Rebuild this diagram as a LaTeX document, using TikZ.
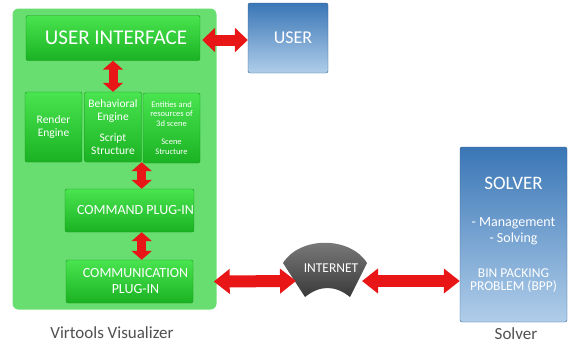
\documentclass[tikz,border=0pt]{standalone}
\usepackage{fontspec}
\setmainfont{Carlito}
\usetikzlibrary{arrows.meta,positioning,calc}
\definecolor{panelgreen}{RGB}{104,222,112}
\definecolor{boxtop}{RGB}{74,228,80}
\definecolor{boxbot}{RGB}{26,178,34}
\definecolor{bluetop}{RGB}{58,118,182}
\definecolor{bluebot}{RGB}{176,206,234}
\definecolor{arrowred}{RGB}{232,22,22}
\definecolor{nettop}{RGB}{128,128,128}
\definecolor{netbot}{RGB}{58,58,58}
\definecolor{captiongray}{RGB}{80,80,80}
\newcommand\fsz[1]{\fontsize{#1}{1.2\dimexpr#1pt\relax}\selectfont}
\tikzset{
panel/.style={fill=panelgreen, rounded corners=6pt, inner sep=0pt},
module/.style={top color=boxtop, bottom color=boxbot, draw=boxbot!85!black,
  rounded corners=2pt, text=white, align=center, inner sep=0pt},
bluebox/.style={top color=bluetop, bottom color=bluebot, draw=bluetop!80!black,
  rounded corners=2pt, text=white, align=center, inner sep=0pt},
link/.style n args={3}{draw=arrowred, line width=#1,
  >={Triangle[length=#3,width=#2]}, <->},
caption/.style={text=captiongray, font=\fontsize{17}{20}\selectfont},
}

\begin{document}
\begin{tikzpicture}[x=1pt,y=-1pt]
\useasboundingbox (0,0) rectangle (568,349);
% visualizer side
\node[panel, minimum width=204pt, minimum height=301pt] (viz) at (114.5,159) {};
\node[module, minimum width=174pt, minimum height=45pt,
  font=\fontsize{21}{24}\selectfont] (ui) at (113,38) {\hspace{6pt}USER INTERFACE};
\node[module, minimum width=57pt, minimum height=70pt,
  font=\fontsize{11.5}{13.5}\selectfont] (render) at (53.5,127) {Render\\Engine};
\node[module, minimum width=57pt, minimum height=70pt,
  font=\fontsize{11.5}{13}\selectfont] (behav) at (113,127)
  {Behavioral\\Engine\\[8pt]Script\\Structure};
\node[module, minimum width=57pt, minimum height=70pt,
  font=\fontsize{8.5}{9.5}\selectfont] (scene) at (171.5,128)
  {Entities and\\resources of\\3d scene\\[9pt]Scene\\Structure};
\node[module, minimum width=127pt, minimum height=43pt,
  font=\fontsize{14}{16}\selectfont] (cmd) at (129.5,210.5) {\hspace{12pt}COMMAND PLUG-IN};
\node[module, minimum width=127pt, minimum height=43pt,
  font=\fontsize{14}{16}\selectfont] (comm) at (129.5,281.5)
  {\hspace{12pt}COMMUNICATION\\\hspace{12pt}PLUG-IN};
%
\node[bluebox, minimum width=80pt, minimum height=70pt,
  font=\fontsize{18}{20}\selectfont] (user) at (288,38) {\hspace{10pt}USER};
%
\node[bluebox, minimum width=107pt, minimum height=175pt,
  font=\fontsize{12}{16}\selectfont] (solver) at (513.5,234.5)
  {\fsz{19}SOLVER\\[21pt]
   \fsz{14}- Management\\
   \fsz{14}- Solving\\[19pt]
   \fsz{13.5}BIN PACKING\\[-3pt]
   \fsz{13.5}PROBLEM (BPP)};
% internet
\shade[top color=nettop, bottom color=netbot] (283,263)
  .. controls (300,236) and (350,236) .. (367,263) -- (350,297)
  .. controls (335,285) and (320,285) .. (305,297) -- cycle;
\node[text=white, font=\fontsize{13.5}{15}\selectfont] (net) at (331,268) {INTERNET};
\coordinate (net-w) at (296,281);
\coordinate (net-e) at (362,281);
%
\node[caption] (vizlabel) at (112,333) {Virtools Visualizer};
\node[caption] (solverlabel) at (516,334) {Solver};
%
\draw[link={11pt}{24pt}{13pt}] (ui.east) ++(2,2) coordinate (ui-e) -- (ui-e -| user.west);
\draw[link={9pt}{20pt}{9pt}] (ui.south) -- (ui.south |- behav.north);
\draw[link={9pt}{20pt}{9pt}] (behav.south east) -- (behav.south east |- cmd.north);
\draw[link={9pt}{20pt}{9pt}] (cmd.south -| behav.east) -- (comm.north -| behav.east);
\draw[link={12pt}{24pt}{16pt}] (comm.east -| viz.east) ++(-3,0) coordinate (comm-e) -- (net-w);
\draw[link={12pt}{24pt}{16pt}] (net-e) -- (net-e -| solver.west);
\end{tikzpicture}
\end{document}
